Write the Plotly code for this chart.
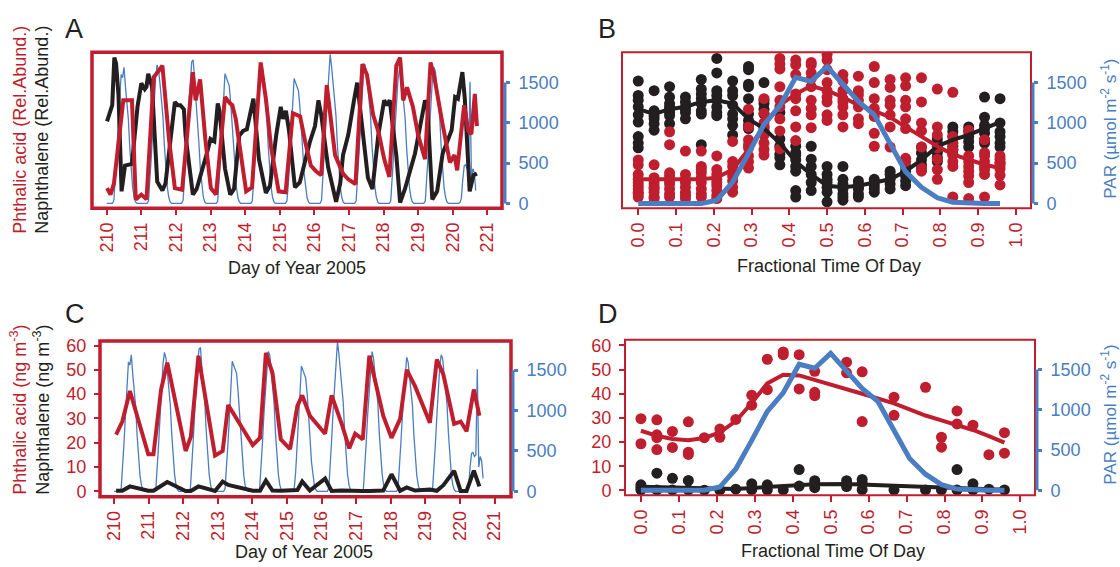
import plotly.graph_objects as go

W, H = 1120, 567
RED = "#BE1E2D"
BLACK = "#231F20"
BLUE = "#4A7DC1"
FONT = "Liberation Sans, Arial, Helvetica, sans-serif"

# ---------------- data ----------------
DAY_TICKS = [210, 211, 212, 213, 214, 215, 216, 217, 218, 219, 220, 221]
FRAC_TICKS = [0.0, 0.1, 0.2, 0.3, 0.4, 0.5, 0.6, 0.7, 0.8, 0.9, 1.0]
FRAC_LABELS = ["0.0", "0.1", "0.2", "0.3", "0.4", "0.5", "0.6", "0.7", "0.8", "0.9", "1.0"]
PAR_TICKS = [0, 500, 1000, 1500]
CONC_TICKS = [0, 10, 20, 30, 40, 50, 60]
HOUR_FRAC = [0.0, 0.042, 0.083, 0.125, 0.167, 0.208, 0.25, 0.292, 0.333, 0.375, 0.417, 0.458,
             0.5, 0.542, 0.583, 0.625, 0.667, 0.708, 0.75, 0.792, 0.833, 0.875, 0.917, 0.958]

# hourly PAR (umol m-2 s-1), one list per day of year
PAR_DAYS = [210, 211, 212, 213, 214, 215, 216, 217, 218, 219, 220]
PAR_HOURLY = [
    [0, 0, 0, 0, 0, 40, 280, 620, 960, 1250, 1600, 1560, 1690, 1450, 1250, 1050, 700, 380, 200, 80, 20, 0, 0, 0],
    [0, 0, 0, 0, 0, 30, 260, 600, 940, 1240, 1580, 1720, 1650, 1480, 1270, 1080, 720, 400, 210, 80, 20, 0, 0, 0],
    [0, 0, 0, 0, 0, 40, 290, 640, 990, 1300, 1600, 1760, 1780, 1520, 1300, 1090, 740, 410, 210, 80, 20, 0, 0, 0],
    [0, 0, 0, 0, 0, 30, 250, 580, 900, 1200, 1610, 1560, 1500, 1460, 1250, 1000, 680, 380, 200, 70, 20, 0, 0, 0],
    [0, 0, 0, 0, 0, 30, 270, 610, 960, 1260, 1560, 1730, 1690, 1480, 1290, 1100, 720, 400, 210, 80, 20, 0, 0, 0],
    [0, 0, 0, 0, 0, 30, 240, 560, 880, 1180, 1550, 1500, 1440, 1400, 1200, 980, 650, 360, 190, 70, 20, 0, 0, 0],
    [0, 0, 0, 0, 0, 40, 300, 650, 1000, 1320, 1620, 1850, 1700, 1500, 1300, 1100, 730, 410, 210, 80, 20, 0, 0, 0],
    [0, 0, 0, 0, 0, 30, 270, 620, 960, 1270, 1580, 1730, 1650, 1470, 1280, 1090, 720, 400, 210, 80, 20, 0, 0, 0],
    [0, 0, 0, 0, 0, 30, 260, 600, 930, 1220, 1520, 1660, 1600, 1420, 1240, 1060, 700, 390, 200, 80, 20, 0, 0, 0],
    [0, 0, 0, 0, 0, 30, 270, 610, 950, 1250, 1560, 1690, 1640, 1450, 1260, 1070, 710, 390, 200, 80, 20, 0, 0, 0],
    [0, 0, 0, 0, 0, 10, 60, 300, 470, 480, 430, 450, 1510, 300, 430, 380, 160],
]

# Panel A: relative abundance time series
A_NAPH_T = [210.01, 210.11, 210.16, 210.22, 210.27, 210.34, 210.43, 210.53, 210.63, 210.73, 210.89, 211.00,
            211.10, 211.15, 211.20, 211.31, 211.46, 211.61, 211.70, 211.97, 212.05, 212.13, 212.23, 212.28,
            212.49, 212.60, 212.90, 213.00, 213.11, 213.21, 213.26, 213.42, 213.57, 213.68, 213.83, 213.94,
            214.05, 214.14, 214.24, 214.40, 214.60, 214.72, 214.90, 215.03, 215.10, 215.18, 215.27, 215.44,
            215.58, 215.87, 216.02, 216.12, 216.20, 216.40, 216.63, 216.75, 216.83, 216.98, 217.05, 217.14,
            217.24, 217.39, 217.55, 217.68, 217.85, 218.02, 218.10, 218.18, 218.37, 218.48, 218.62, 218.91,
            219.06, 219.20, 219.27, 219.41, 219.55, 219.71, 219.97, 220.07, 220.15, 220.28, 220.35, 220.49,
            220.60, 220.70]
A_NAPH = [1.02, 1.14, 1.22, 1.81, 1.74, 1.35, 0.15, 0.47, 0.48, 0.49, 1.20, 1.49,
          1.42, 1.45, 1.61, 1.45, 0.27, 0.16, 0.25, 1.26, 1.22, 1.22, 1.17, 0.84,
          0.11, 0.18, 0.63, 0.80, 0.77, 1.24, 1.15, 0.43, 0.11, 0.18, 0.84, 0.90,
          0.92, 1.10, 1.30, 0.55, 0.13, 0.22, 0.85, 1.20, 1.05, 1.15, 0.90, 0.20,
          0.26, 0.76, 0.96, 1.28, 1.10, 0.45, 0.02, 0.25, 0.60, 0.85, 1.05, 1.26,
          1.50, 0.90, 0.32, 0.18, 0.85, 1.28, 1.22, 1.28, 0.60, 0.01, 0.18, 0.62,
          0.98, 1.28, 1.20, 0.05, 0.15, 0.62, 0.91, 1.32, 1.30, 1.63, 1.30, 0.15,
          0.35, 0.37]
A_PHTH_T = [210.01, 210.11, 210.21, 210.35, 210.48, 210.60, 210.73, 210.84, 211.00, 211.15, 211.36, 211.51,
            211.61, 211.80, 211.97, 212.18, 212.39, 212.49, 212.57, 212.70, 212.85, 213.01, 213.16, 213.42,
            213.55, 213.63, 213.73, 214.03, 214.20, 214.45, 214.60, 214.75, 214.97, 215.17, 215.38, 215.59,
            215.74, 215.90, 216.05, 216.20, 216.36, 216.45, 216.60, 216.83, 216.98, 217.19, 217.39, 217.52,
            217.70, 217.86, 218.02, 218.17, 218.37, 218.48, 218.57, 218.68, 218.85, 219.00, 219.20, 219.36,
            219.46, 219.70, 219.92, 220.05, 220.13, 220.33, 220.45, 220.54, 220.64, 220.70]
A_PHTH = [0.19, 0.11, 0.25, 0.80, 1.28, 1.28, 1.28, 0.05, 0.11, 0.05, 1.57, 1.65,
          1.71, 0.80, 0.19, 0.17, 1.22, 1.63, 1.28, 1.54, 0.80, 0.19, 0.11, 1.32,
          1.25, 1.22, 1.05, 0.15, 0.20, 1.75, 1.30, 0.70, 0.15, 0.14, 1.12, 1.08,
          0.76, 0.47, 0.40, 0.35, 1.47, 1.12, 0.60, 0.37, 0.30, 0.24, 1.73, 1.60,
          1.10, 0.88, 0.55, 0.33, 1.71, 1.81, 1.28, 1.44, 1.20, 0.85, 0.55, 1.75,
          1.59, 1.00, 0.51, 0.60, 0.41, 1.22, 0.90, 0.86, 1.36, 0.96]

# Panel B: relative abundance by hour of day (one list per hour)
B_PHTH = [
    [0.54, 0.48, 0.36, 0.30, 0.26, 0.22, 0.18, 0.14, 0.08, 0.12],
    [0.48, 0.32, 0.28, 0.24, 0.20, 0.14, 0.08, 0.06, 0.18],
    [0.89, 0.73, 0.38, 0.34, 0.28, 0.24, 0.18, 0.12, 0.08],
    [0.65, 0.36, 0.30, 0.26, 0.20, 0.14, 0.10, 0.06],
    [0.65, 0.46, 0.42, 0.38, 0.32, 0.26, 0.18, 0.12, 0.08],
    [0.59, 0.42, 0.36, 0.30, 0.22, 0.16, 0.10, 0.06, 0.26],
    [0.77, 0.52, 0.46, 0.34, 0.28, 0.20, 0.14, 0.38],
    [1.17, 0.79, 0.73, 0.69, 0.59, 0.52, 0.44, 0.95],
    [1.30, 1.12, 1.00, 0.85, 0.75, 0.67, 0.60, 0.95],
    [1.80, 1.73, 1.67, 1.45, 1.28, 1.20, 1.05, 0.90, 0.68],
    [1.78, 1.72, 1.60, 1.36, 1.30, 1.15, 0.95, 0.78],
    [1.75, 1.72, 1.62, 1.55, 1.45, 1.28, 1.18, 1.10, 0.94],
    [1.85, 1.78, 1.66, 1.50, 1.40, 1.32, 1.26, 1.10, 1.03],
    [1.60, 1.52, 1.40, 1.30, 1.20, 1.10, 0.95, 1.26],
    [1.58, 1.40, 1.35, 1.20, 1.05, 0.99, 1.28],
    [1.70, 1.50, 1.18, 1.08, 0.87, 0.71, 1.30],
    [1.54, 1.44, 1.28, 1.22, 1.10, 0.95, 0.70],
    [1.56, 1.46, 1.28, 1.05, 0.93, 0.56, 0.52, 1.20],
    [1.56, 1.26, 1.00, 0.70, 0.44, 0.40, 0.90],
    [1.42, 0.95, 0.85, 0.69, 0.42, 0.55, 0.30],
    [1.38, 0.83, 0.75, 0.67, 0.52, 0.46, 0.08, 0.60],
    [0.91, 0.59, 0.52, 0.46, 0.34, 0.26, 0.06, 0.40],
    [0.79, 0.63, 0.59, 0.52, 0.46, 0.36, 0.08, 0.42],
    [0.59, 0.55, 0.51, 0.47, 0.43, 0.35, 0.23, 0.50],
]
B_NAPH = [
    [1.52, 1.34, 1.28, 1.20, 1.01, 0.83, 0.75, 0.69, 1.10],
    [1.40, 1.15, 1.09, 1.05, 0.99, 0.91, 1.13],
    [1.45, 1.32, 1.24, 1.17, 1.13, 1.09, 0.99, 1.20],
    [1.32, 1.26, 1.20, 1.13, 1.05, 1.17],
    [1.54, 1.42, 1.36, 1.30, 1.24, 1.15, 1.11, 0.73],
    [1.80, 1.62, 1.40, 1.34, 1.28, 1.20, 1.13, 1.09],
    [1.52, 1.40, 1.34, 1.22, 1.11, 1.05, 0.97, 0.85],
    [1.70, 1.66, 1.48, 1.45, 1.30, 1.11, 1.03, 0.97, 0.93],
    [1.50, 1.28, 1.24, 1.17, 1.11, 0.95, 0.91],
    [1.13, 0.71, 0.61, 0.57, 0.48, 0.80],
    [0.71, 0.63, 0.54, 0.46, 0.40, 0.16, 0.08, 0.60],
    [0.71, 0.46, 0.36, 0.26, 0.16, 0.55],
    [0.46, 0.36, 0.26, 0.20, 0.14, 0.02, 0.30],
    [0.46, 0.30, 0.18, 0.12, 0.08, 0.04, 0.24],
    [0.28, 0.24, 0.18, 0.12, 0.08, 0.20],
    [0.26, 0.22, 0.18, 0.14, 0.30],
    [0.36, 0.30, 0.24, 0.18, 0.40],
    [0.46, 0.40, 0.34, 0.28, 0.22],
    [0.63, 0.54, 0.48, 0.42, 0.70],
    [0.75, 0.71, 0.67, 0.63, 0.57, 0.52, 0.80],
    [0.89, 0.83, 0.75, 0.71, 0.67, 0.61, 0.95],
    [0.95, 0.89, 0.83, 0.77, 0.70],
    [1.32, 1.07, 0.97, 0.93, 0.87, 0.79, 0.75],
    [1.30, 1.00, 0.89, 0.83, 0.75, 0.70],
]
B_PHTH_SMOOTH = [0.30, 0.30, 0.30, 0.30, 0.30, 0.32, 0.42, 0.67, 0.97, 1.22, 1.36, 1.46,
                 1.40, 1.32, 1.22, 1.15, 1.07, 0.95, 0.83, 0.71, 0.61, 0.54, 0.48, 0.44]
B_NAPH_SMOOTH = [1.17, 1.11, 1.17, 1.20, 1.26, 1.28, 1.24, 1.05, 0.93, 0.75, 0.52, 0.36,
                 0.22, 0.20, 0.22, 0.26, 0.30, 0.40, 0.54, 0.71, 0.79, 0.85, 0.93, 1.01]
PAR_MEAN = [0, 0, 0, 0, 0, 40, 265, 620, 980, 1210, 1565, 1515,
            1700, 1480, 1265, 1100, 735, 395, 200, 70, 15, 0, 0, 0]

# Panel C: concentrations (ng m-3)
C_T = [210.06, 210.24, 210.46, 210.99, 211.14, 211.36, 211.54, 212.07, 212.22, 212.44, 212.92, 213.14,
       213.30, 214.01, 214.22, 214.39, 214.58, 214.82, 215.09, 215.30, 215.44, 215.66, 216.10, 216.29,
       216.58, 216.80, 216.97, 217.19, 217.38, 217.78, 218.02, 218.27, 218.46, 218.70, 219.13, 219.33,
       219.52, 219.83, 220.02, 220.19, 220.40, 220.56]
C_PHTH = [23.3, 28.7, 41.3, 15.2, 15.2, 41.9, 53.0, 16.6, 22.4, 55.8, 14.7, 16.6,
          35.5, 19.0, 22.0, 57.0, 48.7, 21.4, 17.4, 35.2, 39.5, 31.1, 23.7, 39.5,
          27.8, 17.7, 23.7, 21.4, 55.8, 31.1, 22.0, 29.8, 50.0, 43.3, 28.2, 54.3,
          48.0, 27.8, 28.7, 24.7, 41.9, 31.1]
C_NAPH = [0.2, 0.2, 2.0, 0.2, 0.2, 2.0, 3.8, 0.1, 0.1, 2.0, 0.1, 4.0,
          2.6, 0.2, 0.2, 4.4, 0.3, 0.2, 0.2, 0.5, 4.0, 0.3, 5.2, 0.1,
          0.3, 0.1, 0.2, 0.1, 0.1, 0.3, 7.0, 0.2, 1.6, 0.3, 0.7, 0.2,
          2.5, 8.4, 0.1, 0.1, 8.5, 2.0]

# Panel D: concentrations by hour of day
D_PHTH_HOUR = [0, 0, 1, 1, 1, 1, 2, 2, 3, 3, 3, 4, 5, 5, 6, 7, 7, 8, 8, 9, 9, 10, 10, 11, 11, 11,
               13, 13, 14, 14, 16, 16, 18, 19, 19, 20, 20, 21, 22, 23, 23]
D_PHTH = [29.7, 19.3, 29.2, 23.0, 21.8, 16.9, 24.4, 17.8, 28.4, 15.8, 14.9, 21.8, 25.4, 22.0, 29.4,
          39.4, 35.3, 54.3, 41.7, 57.3, 56.2, 56.2, 42.0, 49.3, 40.6, 39.2,
          53.1, 48.7, 49.1, 28.5, 38.6, 31.1, 42.7, 22.0, 17.9, 32.9, 27.5, 27.0, 14.8, 23.9, 15.4]
D_NAPH_HOUR = [0, 0, 0, 1, 1, 2, 2, 3, 3, 4, 5, 6, 7, 7, 8, 8, 9, 10, 10, 11, 11, 11,
               13, 13, 14, 14, 14, 16, 18, 19, 20, 20, 21, 21, 22, 23]
D_NAPH = [2.3, 1.2, 0.2, 7.1, 0.2, 5.0, 0.2, 4.1, 0.2, 0.1, 0.1, 0.5, 2.7, 0.3, 2.3, 0.2, 0.2,
          8.6, 1.8, 4.0, 2.7, 1.1, 4.0, 1.6, 4.5, 3.0, 0.3, 0.2, 0.2, 0.2, 8.6, 0.2, 2.7, 0.2, 0.5, 0.2]
D_SMOOTH_HOUR = [0, 1, 2, 3, 4, 5, 6, 7, 8, 9, 10, 11, 13, 14, 16, 18, 19, 20, 21, 22, 23]
D_PHTH_SMOOTH = [24.7, 22.6, 21.3, 20.8, 21.7, 24.0, 28.7, 36.2, 44.3, 47.9, 47.6, 45.8,
                 42.2, 40.0, 36.0, 31.0, 29.0, 27.0, 25.0, 22.5, 19.8]
D_NAPH_SMOOTH = [1.5, 1.3, 1.1, 0.9, 0.6, 0.4, 0.6, 1.0, 1.4, 1.8, 2.2, 2.5,
                 2.6, 2.4, 1.9, 1.5, 1.3, 1.1, 0.8, 0.5, 0.3]

# ---------------- derived point lists ----------------
par_t, par_v = [], []
for d, vals in zip(PAR_DAYS, PAR_HOURLY):
    for h, v in enumerate(vals):
        par_t.append(d + h / 24.0)
        par_v.append(v)

def flatten(per_hour):
    xs, ys = [], []
    for h, vals in enumerate(per_hour):
        for v in vals:
            xs.append(HOUR_FRAC[h])
            ys.append(v)
    return xs, ys

bpx, bpy = flatten(B_PHTH)
bnx, bny = flatten(B_NAPH)

def fx(p):
    return p / W

def fy(p):
    return 1 - p / H

fig = go.Figure()
nohover = dict(hoverinfo="skip", showlegend=False)
LW = 4

# ---- Panel A ----
fig.add_trace(go.Scatter(x=par_t, y=par_v, mode="lines", line=dict(color=BLUE, width=1.3),
                         xaxis="x", yaxis="y", **nohover))
fig.add_trace(go.Scatter(x=A_NAPH_T, y=A_NAPH, mode="lines", line=dict(color=BLACK, width=LW),
                         xaxis="x", yaxis="y2", **nohover))
fig.add_trace(go.Scatter(x=A_PHTH_T, y=A_PHTH, mode="lines", line=dict(color=RED, width=LW),
                         xaxis="x", yaxis="y2", **nohover))

# ---- Panel B ----
fig.add_trace(go.Scatter(x=bnx, y=bny, mode="markers", marker=dict(color=BLACK, size=11),
                         xaxis="x2", yaxis="y3", **nohover))
fig.add_trace(go.Scatter(x=bpx, y=bpy, mode="markers", marker=dict(color=RED, size=11),
                         xaxis="x2", yaxis="y3", **nohover))
fig.add_trace(go.Scatter(x=HOUR_FRAC, y=B_NAPH_SMOOTH, mode="lines", line=dict(color=BLACK, width=LW),
                         xaxis="x2", yaxis="y3", **nohover))
fig.add_trace(go.Scatter(x=HOUR_FRAC, y=B_PHTH_SMOOTH, mode="lines", line=dict(color=RED, width=LW),
                         xaxis="x2", yaxis="y3", **nohover))
fig.add_trace(go.Scatter(x=HOUR_FRAC, y=PAR_MEAN, mode="lines", line=dict(color=BLUE, width=5),
                         xaxis="x2", yaxis="y4", **nohover))

# ---- Panel C ----
fig.add_trace(go.Scatter(x=par_t, y=par_v, mode="lines", line=dict(color=BLUE, width=1.3),
                         xaxis="x3", yaxis="y5", **nohover))
fig.add_trace(go.Scatter(x=C_T, y=C_NAPH, mode="lines", line=dict(color=BLACK, width=LW),
                         xaxis="x3", yaxis="y6", **nohover))
fig.add_trace(go.Scatter(x=C_T, y=C_PHTH, mode="lines", line=dict(color=RED, width=LW),
                         xaxis="x3", yaxis="y6", **nohover))

# ---- Panel D ----
fig.add_trace(go.Scatter(x=[HOUR_FRAC[h] for h in D_NAPH_HOUR], y=D_NAPH, mode="markers",
                         marker=dict(color=BLACK, size=11), xaxis="x4", yaxis="y7", **nohover))
fig.add_trace(go.Scatter(x=[HOUR_FRAC[h] for h in D_PHTH_HOUR], y=D_PHTH, mode="markers",
                         marker=dict(color=RED, size=11), xaxis="x4", yaxis="y7", **nohover))
fig.add_trace(go.Scatter(x=[HOUR_FRAC[h] for h in D_SMOOTH_HOUR], y=D_NAPH_SMOOTH, mode="lines",
                         line=dict(color=BLACK, width=LW), xaxis="x4", yaxis="y7", **nohover))
fig.add_trace(go.Scatter(x=[HOUR_FRAC[h] for h in D_SMOOTH_HOUR], y=D_PHTH_SMOOTH, mode="lines",
                         line=dict(color=RED, width=LW), xaxis="x4", yaxis="y7", **nohover))
fig.add_trace(go.Scatter(x=HOUR_FRAC, y=PAR_MEAN, mode="lines", line=dict(color=BLUE, width=5),
                         xaxis="x4", yaxis="y8", **nohover))

# ---------------- axes ----------------
tickfont_red = dict(color=RED, size=18, family=FONT)
tickfont_blue = dict(color=BLUE, size=18, family=FONT)

def xax(dom, rng, anchor, vals, text=None):
    d = dict(domain=[fx(dom[0]), fx(dom[1])], range=rng, anchor=anchor, tickvals=vals,
             tickangle=-90, tickfont=tickfont_red, ticks="outside", ticklen=6, tickwidth=2,
             tickcolor=RED, showgrid=False, zeroline=False, showline=False)
    if text is not None:
        d["ticktext"] = text
    return d

def par_ax(dom, rng, pos, overlay=None):
    d = dict(domain=[fy(dom[1]), fy(dom[0])], range=rng, anchor="free", position=fx(pos),
             side="right", tickvals=PAR_TICKS, ticks="outside", ticklen=4, tickwidth=3,
             tickcolor=BLUE, tickfont=tickfont_blue, showgrid=False, zeroline=False,
             showline=False, ticklabelstandoff=5)
    if overlay:
        d["overlaying"] = overlay
    return d

def conc_ax(dom, rng, anchor, overlay=None):
    d = dict(domain=[fy(dom[1]), fy(dom[0])], range=rng, anchor=anchor, side="left",
             tickvals=CONC_TICKS, ticks="outside", ticklen=5, tickwidth=2, tickcolor=RED,
             tickfont=tickfont_red, showgrid=False, zeroline=False, showline=False,
             ticklabelstandoff=4)
    if overlay:
        d["overlaying"] = overlay
    return d

def rel_ax(dom, rng, anchor, overlay=None):
    d = dict(domain=[fy(dom[1]), fy(dom[0])], range=rng, anchor=anchor, visible=False,
             showgrid=False, zeroline=False)
    if overlay:
        d["overlaying"] = overlay
    return d

A_BOX = (92, 48, 502, 207)
B_BOX = (622, 48, 1031, 207)
C_BOX = (100, 342, 511, 500.7)
D_BOX = (625, 340.7, 1035, 499)

layout = dict(
    width=W, height=H, margin=dict(l=0, r=0, t=0, b=0),
    paper_bgcolor="white", plot_bgcolor="white",
    font=dict(family=FONT, color=BLACK, size=18),
    showlegend=False,
    xaxis=xax((A_BOX[0], A_BOX[2]), [209.575, 221.425], "y", DAY_TICKS),
    yaxis=par_ax((A_BOX[1], A_BOX[3]), [-61, 1878], 505),
    yaxis2=rel_ax((A_BOX[1], A_BOX[3]), [-0.061, 1.878], "x", overlay="y"),
    xaxis2=xax((B_BOX[0], B_BOX[2]), [-0.043, 1.040], "y3", FRAC_TICKS, FRAC_LABELS),
    yaxis3=rel_ax((B_BOX[1], B_BOX[3]), [-0.061, 1.878], "x2"),
    yaxis4=par_ax((B_BOX[1], B_BOX[3]), [-61, 1878], 1033, overlay="y3"),
    xaxis3=xax((C_BOX[0], C_BOX[2]), [209.595, 221.474], "y5", DAY_TICKS),
    yaxis5=par_ax((C_BOX[1], C_BOX[3]), [-69, 1861], 513),
    yaxis6=conc_ax((C_BOX[1], C_BOX[3]), [-2.3, 61.9], "x3", overlay="y5"),
    xaxis4=xax((D_BOX[0], D_BOX[2]), [-0.042, 1.0385], "y7", FRAC_TICKS, FRAC_LABELS),
    yaxis7=conc_ax((D_BOX[1], D_BOX[3]), [-2.0, 62.4], "x4"),
    yaxis8=par_ax((D_BOX[1], D_BOX[3]), [-61, 1870], 1037, overlay="y7"),
)
fig.update_layout(**layout)

# frames and blue axis lines
shapes = []
for box, lw in ((A_BOX, 3.5), (B_BOX, 2), (C_BOX, 3.5), (D_BOX, 2)):
    shapes.append(dict(type="rect", xref="paper", yref="paper", x0=fx(box[0]), x1=fx(box[2]),
                       y0=fy(box[3]), y1=fy(box[1]), line=dict(color=RED, width=lw), layer="above"))
for pos, yref in ((505, "y"), (1033, "y4"), (513, "y5"), (1037, "y8")):
    shapes.append(dict(type="line", xref="paper", yref=yref, x0=fx(pos), x1=fx(pos),
                       y0=PAR_TICKS[0], y1=PAR_TICKS[-1], line=dict(color=BLUE, width=3), layer="above"))
fig.update_layout(shapes=shapes)

# texts
ann = []
def text(x, y, s, color=BLACK, size=18, angle=0):
    ann.append(dict(x=fx(x), y=fy(y), xref="paper", yref="paper", text=s, showarrow=False,
                    textangle=angle, xanchor="center", yanchor="middle",
                    font=dict(color=color, size=size, family=FONT)))

for lab, x, y in (("A", 74, 24), ("B", 607, 24), ("C", 75, 315), ("D", 608, 315)):
    text(x, y, lab, size=27)
text(297, 268, "Day of Year 2005")
text(829, 266, "Fractional Time Of Day")
text(304, 557, "Day of Year 2005")
text(833, 556, "Fractional Time Of Day")
text(20, 127, "Phthalic acid (Rel.Abund.)", color=RED, angle=-90)
text(42, 127, "Naphthalene (Rel.Abund.)", color=BLACK, angle=-90)
text(19, 412, "Phthalic acid (ng m<sup>-3</sup>)", color=RED, angle=-90)
text(42, 412, "Naphthalene (ng m<sup>-3</sup>)", color=BLACK, angle=-90)
text(1109, 126, "PAR (µmol m<sup>-2</sup> s<sup>-1</sup>)", color=BLUE, size=17, angle=-90)
text(1109, 417, "PAR (µmol m<sup>-2</sup> s<sup>-1</sup>)", color=BLUE, size=17, angle=-90)
fig.update_layout(annotations=ann)

fig.write_html("out.html", config={"displayModeBar": False},
               post_script="document.body.style.margin='0';document.body.style.overflow='hidden';")
